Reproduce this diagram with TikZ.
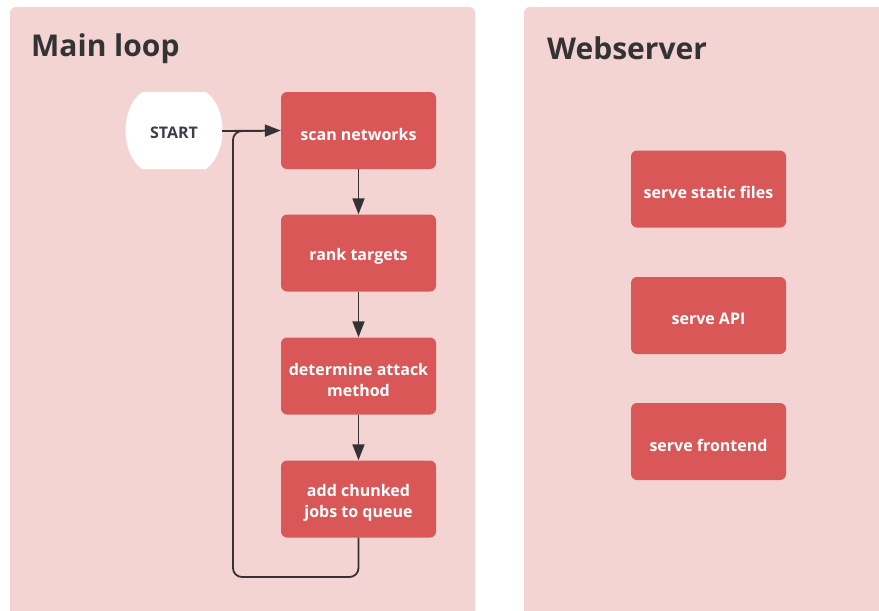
\documentclass[tikz,border=0pt]{standalone}
\usepackage{fontspec}
\setmainfont{Open Sans}
\usetikzlibrary{arrows.meta}
\definecolor{panel}{HTML}{F4D3D3}
\definecolor{boxred}{HTML}{D95757}
\definecolor{ink}{HTML}{333333}
\definecolor{startink}{HTML}{3B4048}
\tikzset{
  panelbox/.style={fill=panel, draw=none, rounded corners=6pt},
  stepbox/.style={fill=boxred, draw=none, rounded corners=6pt, minimum width=155pt, minimum height=77pt, inner sep=0pt},
  steptext/.style={text=white, font=\fontsize{16}{21}\selectfont\bfseries, align=center, inner sep=0pt, yshift=-3.5pt},
  title/.style={text=ink, font=\fontsize{30}{35}\selectfont\bfseries, anchor=west, inner sep=0pt},
  conn/.style={draw=ink, line width=1.8pt, -{Triangle[length=16pt,width=12pt]}},
  loopline/.style={draw=ink, line width=1.8pt, rounded corners=9pt}
}
\begin{document}
\begin{tikzpicture}[x=1pt,y=-1pt]
\useasboundingbox (0,0) rectangle (879,611);
\fill[white] (0,0) rectangle (879,611);
% panels
\fill[panelbox] (10,7) rectangle (475,630);
\fill[panelbox] (524,7) rectangle (900,630);
\node[title] (t1) at (31,48.5) {Main loop};
\node[title] (t2) at (547,48.5) {Webserver};
% start terminator
\fill[white] (142,92) -- (206,92) .. controls (228,108) and (228,153) .. (206,169) -- (142,169) .. controls (120,153) and (120,108) .. (142,92) -- cycle;
\node[text=startink, font=\fontsize{16}{20}\selectfont\bfseries, inner sep=0pt] (start) at (174,132.5) {START};
\coordinate (startE) at (222,131);
% main loop boxes
\node[stepbox] (scan) at (358.5,130.5) {};
\node[steptext] (scanT) at (scan) {scan networks};
\node[stepbox] (rank) at (358.5,253) {};
\node[steptext] (rankT) at (rank) {rank targets};
\node[stepbox] (det) at (358.5,376) {};
\node[steptext] (detT) at (det) {determine attack\\method};
\node[stepbox] (add) at (358.5,499) {};
\node[steptext] (addT) at (add) {add chunked\\jobs to queue};
% webserver boxes
\node[stepbox] (static) at (708.5,189) {};
\node[steptext] (staticT) at (static) {serve static files};
\node[stepbox] (api) at (708.5,315.5) {};
\node[steptext] (apiT) at (api) {serve API};
\node[stepbox] (front) at (708.5,441.5) {};
\node[steptext] (frontT) at (front) {serve frontend};
% connectors
\draw[conn] (startE) -- (scan.west);
\draw[conn] (scan.south) -- (rank.north);
\draw[conn] (rank.south) -- (det.north);
\draw[conn] (det.south) -- (add.north);
\coordinate (lb) at (358.5,577);
\coordinate (ll) at (233,577);
\coordinate (lt) at (233,131);
\coordinate (lj) at (262,131);
\draw[loopline] (add.south) -- (lb) -- (ll) -- (lt) -- (lj);
\end{tikzpicture}
\end{document}
